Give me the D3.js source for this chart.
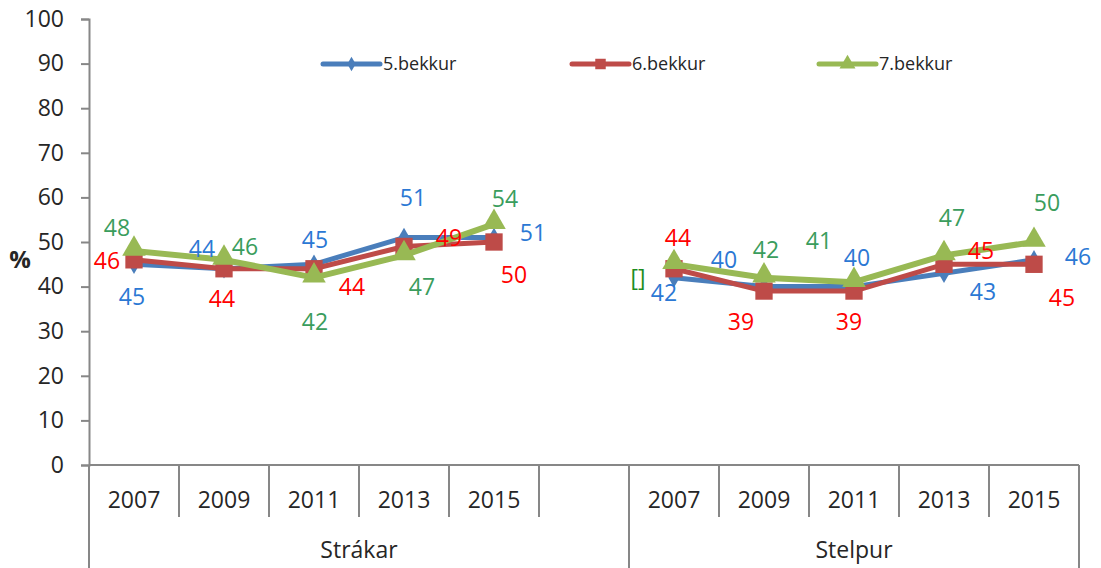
<!DOCTYPE html>
<html>
<head>
<meta charset="utf-8">
<script src="https://cdn.jsdelivr.net/npm/d3@7"></script>
<style>
  body { margin: 0; background: #fff; }
  svg { display: block; font-family: "Open Sans", sans-serif; }
</style>
</head>
<body>
<svg id="chart" width="1101" height="568"></svg>
<script>
// categories
const groups = ["Strákar", "Stelpur"];
const years = ["2007", "2009", "2011", "2013", "2015"];
const seriesNames = ["5.bekkur", "6.bekkur", "7.bekkur"];
const yTicks = [0, 10, 20, 30, 40, 50, 60, 70, 80, 90, 100];

// values (%)
const bekkur5Strakar = [45, 44, 45, 51, 51];
const bekkur5Stelpur = [42, 40, 40, 43, 46];
const bekkur6Strakar = [46, 44, 44, 49, 50];
const bekkur6Stelpur = [44, 39, 39, 45, 45];
const bekkur7Strakar = [48, 46, 42, 47, 54];
const bekkur7Stelpur = [45, 42, 41, 47, 50];

// the one label in the source that shows a broken reference instead of a number
const labelOverride = { "7.bekkur|Stelpur|2007": "[]" };

// where each data label sits relative to its point (px)
const nudge5Strakar = [[-2, 32], [-22, -20], [1, -25], [9, -40], [39, -5]];
const nudge5Stelpur = [[-10, 15], [-40, -27], [3, -29], [39, 18], [44, -3]];
const nudge6Strakar = [[-27, 1], [-2, 30], [38, 18], [45, -9], [20, 33]];
const nudge6Stelpur = [[4, -31], [-23, 31], [-5, 31], [37, -14], [28, 33]];
const nudge7Strakar = [[-17, -23], [21, -13], [1, 44], [18, 31], [11, -25]];
const nudge7Stelpur = [[-36, 13], [2, -28], [-35, -41], [8, -38], [13, -39]];

const series = [
  { name: seriesNames[0], line: "#4A7EBB", text: "#2B78D4", marker: "diamond", width: 5,
    values: [bekkur5Strakar, bekkur5Stelpur], nudges: [nudge5Strakar, nudge5Stelpur] },
  { name: seriesNames[1], line: "#BE4B48", text: "#FF0000", marker: "square", width: 5,
    values: [bekkur6Strakar, bekkur6Stelpur], nudges: [nudge6Strakar, nudge6Stelpur] },
  { name: seriesNames[2], line: "#98B954", text: "#3A9D5D", marker: "triangle", width: 6,
    values: [bekkur7Strakar, bekkur7Stelpur], nudges: [nudge7Strakar, nudge7Stelpur] }
];

const svg = d3.select("#chart");
const plotLeft = 89, plotRight = 1079, plotTop = 19, plotBase = 465;

// 11 slots: five years, an empty gap slot, five years
const slots = [];
groups.forEach(function (g, gi) {
  years.forEach(function (yr) { slots.push(g + "|" + yr); });
  if (gi === 0) slots.push("gap");
});

const x = d3.scaleBand().domain(slots).range([plotLeft, plotRight]);
const y = d3.scaleLinear().domain([0, 100]).range([plotBase, plotTop]);

const axisColor = "#878787";
const labelColor = "#262626";

// y axis
const yAxis = svg.append("g")
  .attr("transform", "translate(" + plotLeft + ",0)")
  .call(d3.axisLeft(y).tickValues(yTicks).tickSize(8).tickPadding(17));
yAxis.select(".domain").attr("stroke", axisColor).attr("stroke-width", 2);
yAxis.selectAll(".tick line").attr("stroke", axisColor).attr("stroke-width", 2);
yAxis.selectAll(".tick text")
  .attr("fill", labelColor)
  .style("font-size", "23px")
  .style("font-family", "'Open Sans', sans-serif");

svg.append("text")
  .attr("x", 20).attr("y", 259).attr("dy", "0.36em")
  .attr("text-anchor", "middle")
  .attr("fill", labelColor)
  .style("font-size", "24px").style("font-weight", "bold")
  .text("%");

// x axis: baseline, year boundaries, group boundaries
const xa = svg.append("g");
xa.append("line")
  .attr("x1", plotLeft).attr("x2", plotRight).attr("y1", plotBase).attr("y2", plotBase)
  .attr("stroke", axisColor).attr("stroke-width", 2);

slots.forEach(function (s, i) {
  if (i === 0) return;
  const bx = x(s);
  const groupEdge = s === groups[1] + "|" + years[0];
  xa.append("line")
    .attr("x1", bx).attr("x2", bx)
    .attr("y1", plotBase).attr("y2", groupEdge ? 568 : 517)
    .attr("stroke", axisColor).attr("stroke-width", 2);
});
[plotLeft, plotRight].forEach(function (bx) {
  xa.append("line")
    .attr("x1", bx).attr("x2", bx).attr("y1", plotBase).attr("y2", 568)
    .attr("stroke", axisColor).attr("stroke-width", 2);
});

slots.filter(function (s) { return s !== "gap"; }).forEach(function (s) {
  xa.append("text")
    .attr("x", x(s) + x.bandwidth() / 2).attr("y", 500).attr("dy", "0.36em")
    .attr("text-anchor", "middle").attr("fill", labelColor)
    .style("font-size", "23px")
    .text(s.split("|")[1]);
});

const split = x(groups[1] + "|" + years[0]);
const groupEnds = [[plotLeft, split], [split, plotRight]];
groups.forEach(function (g, gi) {
  xa.append("text")
    .attr("x", (groupEnds[gi][0] + groupEnds[gi][1]) / 2).attr("y", 550).attr("dy", "0.36em")
    .attr("text-anchor", "middle").attr("fill", labelColor)
    .style("font-size", "23px")
    .text(g);
});

function markerPath(kind, size) {
  const sym = kind === "diamond" ? d3.symbolDiamond : kind === "square" ? d3.symbolSquare : d3.symbolTriangle;
  return d3.symbol().type(sym).size(size)();
}
const markerSize = { diamond: 110, square: 300, triangle: 240 };

const line = d3.line()
  .x(function (d) { return d.x; })
  .y(function (d) { return d.y; });

// lines and markers
series.forEach(function (s) {
  const g = svg.append("g");
  groups.forEach(function (grp, gi) {
    const pts = s.values[gi].map(function (v, i) {
      return { x: x(grp + "|" + years[i]) + x.bandwidth() / 2, y: y(v) };
    });
    g.append("path")
      .attr("d", line(pts))
      .attr("fill", "none")
      .attr("stroke", s.line)
      .attr("stroke-width", s.width)
      .attr("stroke-linejoin", "round");
    g.selectAll(null)
      .data(pts)
      .join("path")
      .attr("d", markerPath(s.marker, markerSize[s.marker]))
      .attr("transform", function (d) {
        return "translate(" + d.x + "," + (d.y + (s.marker === "triangle" ? -2 : 0)) + ")";
      })
      .attr("fill", s.line);
  });
});

// data labels
series.forEach(function (s) {
  groups.forEach(function (grp, gi) {
    s.values[gi].forEach(function (v, i) {
      const key = s.name + "|" + grp + "|" + years[i];
      const nd = s.nudges[gi][i];
      const txt = labelOverride[key] !== undefined ? labelOverride[key] : String(v);
      svg.append("text")
        .attr("x", x(grp + "|" + years[i]) + x.bandwidth() / 2 + nd[0])
        .attr("y", y(v) + nd[1])
        .attr("dy", "0.36em")
        .attr("text-anchor", "middle")
        .attr("fill", labelOverride[key] !== undefined ? "#1E8C1E" : s.text)
        .style("font-size", "23px")
        .text(txt);
    });
  });
});

// legend
const legendX = [323, 572, 819];
series.forEach(function (s, i) {
  const lg = svg.append("g").attr("transform", "translate(" + legendX[i] + ",64)");
  lg.append("line")
    .attr("x1", 0).attr("x2", 57).attr("y1", 0).attr("y2", 0)
    .attr("stroke", s.line).attr("stroke-width", 5).attr("stroke-linecap", "round");
  lg.append("path")
    .attr("d", markerPath(s.marker, s.marker === "diamond" ? 60 : 110))
    .attr("transform", "translate(28.5,0)")
    .attr("fill", s.line);
  lg.append("text")
    .attr("x", 60).attr("y", 0).attr("dy", "0.36em")
    .attr("fill", labelColor)
    .style("font-size", "18px")
    .text(s.name);
});
</script>
</body>
</html>
